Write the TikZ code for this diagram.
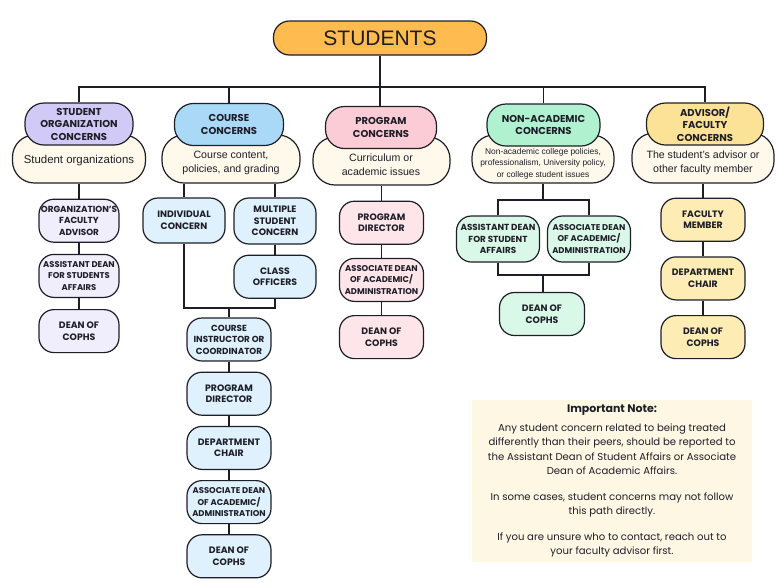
\documentclass[tikz,border=0pt]{standalone}
\usepackage{fontspec}
\setmainfont{Liberation Sans}
\newfontfamily\popfont{Poppins}
\usepackage{tikz}
\usetikzlibrary{positioning,backgrounds}
\definecolor{inki}{RGB}{30,30,40}
\definecolor{orangei}{RGB}{253,187,80}
\definecolor{purplei}{RGB}{210,202,246}
\definecolor{purpleii}{RGB}{240,237,253}
\definecolor{bluei}{RGB}{170,216,247}
\definecolor{blueii}{RGB}{222,241,252}
\definecolor{pinki}{RGB}{251,204,214}
\definecolor{pinkii}{RGB}{253,229,234}
\definecolor{greeni}{RGB}{176,242,208}
\definecolor{greenii}{RGB}{217,248,231}
\definecolor{yellowi}{RGB}{252,226,150}
\definecolor{yellowii}{RGB}{253,236,180}
\definecolor{creami}{RGB}{255,249,236}
\definecolor{notei}{RGB}{254,247,228}
\tikzset{
      mytop/.style={
        draw=inki,
        fill=orangei,
        line width=1.2pt,
        rounded corners=16pt,
        text=inki,
        font=\fontsize{21}{21}\selectfont,
        minimum width=213pt,
        minimum height=34pt
      },
      myhead/.style 2 args={
        draw=inki,
        fill=#1,
        line width=1.2pt,
        rounded corners=19pt,
        align=center,
        text=inki,
        font=\popfont\bfseries\fontsize{10}{12.5}\selectfont,
        minimum width=#2,
        minimum height=42pt,
        inner sep=1pt
      },
      mydesc/.style 2 args={
        draw=inki,
        fill=creami,
        line width=1.2pt,
        rounded corners=22pt,
        minimum width=#1,
        minimum height=#2
      },
      mydesctext/.style={
        align=center,
        text=inki,
        font=\fontsize{10.6}{14}\selectfont,
        inner sep=0pt
      },
      mystep/.style 2 args={
        draw=inki,
        fill=#1,
        line width=1.2pt,
        rounded corners=15pt,
        align=center,
        text=inki,
        font=\popfont\bfseries\fontsize{9.3}{11.5}\selectfont,
        minimum width=#2,
        minimum height=43pt,
        inner sep=1pt
      },
      mymid/.style={
        font=\popfont\bfseries\fontsize{8.8}{11.5}\selectfont
      },
      mysmall/.style={
        font=\popfont\bfseries\fontsize{8.4}{11.5}\selectfont
      },
      mynote/.style={
        fill=notei,
        align=center,
        text=inki,
        font=\popfont\fontsize{10.1}{14.5}\selectfont,
        minimum width=280pt,
        minimum height=162pt
      },
      myline/.style={
        draw=inki,
        line width=1.6pt
      },
      mybus/.style={
        draw=inki,
        line width=1.1pt
      },
    }
\begin{document}
\begin{tikzpicture}[x=1pt,y=-1pt,node distance=11pt]
\useasboundingbox (0,0) rectangle (780,582);

          \node[mytop]
            (students) at (380,38)
            {STUDENTS};
          \coordinate (bus) at (380,87);

          % student organization concerns
          \begin{scope}[xshift=78pt,node distance=11pt]
          \node[mydesc={133pt}{48pt}]
            (orgdesc) at (1,159)
            {};
          \node[myhead={purplei}{108pt}]
            (orghead) at (1,124)
            {STUDENT\\ORGANIZATION\\CONCERNS};
          \node[mydesctext,font=\fontsize{11.4}{14}\selectfont]
            (orgtext) at (1,161)
            {Student organizations};
          \node[mystep={purpleii}{80pt},mymid,below=15pt of orgdesc]
            (orgadvisor)
            {ORGANIZATION’S\\FACULTY\\ADVISOR};
          \node[mystep={purpleii}{80pt},mysmall,below=of orgadvisor]
            (orgassistant)
            {ASSISTANT DEAN\\FOR STUDENTS\\AFFAIRS};
          \node[mystep={purpleii}{80pt},below=of orgassistant]
            (orgdean)
            {DEAN OF\\COPHS};
          \end{scope}

          % course concerns
          \begin{scope}[xshift=229pt,node distance=10pt]
          \node[mydesc={138pt}{48pt}]
            (coursedesc) at (2,159)
            {};
          \node[myhead={bluei}{109pt}]
            (coursehead) at (0,124.5)
            {COURSE\\CONCERNS};
          \node[mydesctext]
            (coursetext) at (2,163)
            {Course content,\\policies, and grading};
          \node[mystep={blueii}{82pt},minimum height=45pt]
            (individual) at (-45,220.5)
            {INDIVIDUAL\\CONCERN};
          \node[mystep={blueii}{82pt},minimum height=46pt]
            (multiple) at (46,221)
            {MULTIPLE\\STUDENT\\CONCERN};
          \node[mystep={blueii}{82pt},below=of multiple]
            (classofficers)
            {CLASS\\OFFICERS};
          \coordinate (coursejoin) at (0,308);
          \node[mystep={blueii}{84pt},mymid]
            (instructor) at (0,339.5)
            {COURSE\\INSTRUCTOR OR\\COORDINATOR};
          \node[mystep={blueii}{84pt},below=of instructor]
            (courseprogram)
            {PROGRAM\\DIRECTOR};
          \node[mystep={blueii}{84pt},below=of courseprogram]
            (coursechair)
            {DEPARTMENT\\CHAIR};
          \node[mystep={blueii}{84pt},mysmall,below=of coursechair]
            (courseassociate)
            {ASSOCIATE DEAN\\OF ACADEMIC/\\ADMINISTRATION};
          \node[mystep={blueii}{84pt},below=of courseassociate]
            (coursedean)
            {DEAN OF\\COPHS};
          \end{scope}

          % program concerns
          \begin{scope}[xshift=381pt,node distance=13pt]
          \node[mydesc={137pt}{48pt}]
            (progdesc) at (0.5,161)
            {};
          \node[myhead={pinki}{111pt}]
            (proghead) at (0,127.5)
            {PROGRAM\\CONCERNS};
          \node[mydesctext]
            (progtext) at (0,165)
            {Curriculum or\\academic issues};
          \node[mystep={pinkii}{84pt},below=15pt of progdesc]
            (progdirector)
            {PROGRAM\\DIRECTOR};
          \node[mystep={pinkii}{84pt},mysmall,below=of progdirector]
            (progassociate)
            {ASSOCIATE DEAN\\OF ACADEMIC/\\ADMINISTRATION};
          \node[mystep={pinkii}{84pt},below=of progassociate]
            (progdean)
            {DEAN OF\\COPHS};
          \end{scope}

          % non-academic concerns
          \begin{scope}[xshift=543pt]
          \node[mydesc={142pt}{48pt}]
            (nonacaddesc) at (0,159)
            {};
          \node[myhead={greeni}{113pt}]
            (nonacadhead) at (0.5,125)
            {NON-ACADEMIC\\CONCERNS};
          \node[mydesctext,font=\fontsize{8.4}{11.6}\selectfont]
            (nonacadtext) at (0,163.5)
            {Non-academic college policies,\\professionalism, University policy,\\or college student issues};
          \coordinate (nonacadsplit) at (0,200);
          \node[mystep={greenii}{83pt},mymid,minimum height=46pt]
            (nonacadassistant) at (-45,239)
            {ASSISTANT DEAN\\FOR STUDENT\\AFFAIRS};
          \node[mystep={greenii}{83pt},mysmall,minimum height=46pt]
            (nonacadassociate) at (46,239)
            {ASSOCIATE DEAN\\OF ACADEMIC/\\ADMINISTRATION};
          \coordinate (nonacadjoin) at (0,275);
          \node[mystep={greenii}{85pt}]
            (nonacaddean) at (-1,314)
            {DEAN OF\\COPHS};
          \end{scope}

          % advisor/faculty concerns
          \begin{scope}[xshift=705pt,node distance=14.5pt]
          \node[mydesc={142pt}{50pt}]
            (advdesc) at (-2,158)
            {};
          \node[myhead={yellowi}{117pt}]
            (advhead) at (0,124)
            {ADVISOR/\\FACULTY\\CONCERNS};
          \node[mydesctext]
            (advtext) at (-2,162.5)
            {The student's advisor or\\other faculty member};
          \node[mystep={yellowii}{84pt},below=14pt of advdesc]
            (advmember)
            {FACULTY\\MEMBER};
          \node[mystep={yellowii}{84pt},below=of advmember]
            (advchair)
            {DEPARTMENT\\CHAIR};
          \node[mystep={yellowii}{84pt},below=of advchair]
            (advdean)
            {DEAN OF\\COPHS};
          \end{scope}

          \node[mynote]
            (note) at (612,481)
            {{\bfseries\fontsize{11}{12}\selectfont Important Note:}\\[4pt]
             Any student concern related to being treated\\
             differently than their peers, should be reported to\\
             the Assistant Dean of Student Affairs or Associate\\
             Dean of Academic Affairs.\\[11pt]
             In some cases, student concerns may not follow\\
             this path directly.\\[11pt]
             If you are unsure who to contact, reach out to\\
             your faculty advisor first.};

          \draw [mybus] (orghead.north) |- (bus) -| (advhead.north);
          \draw [mybus] (coursehead.north) -- (coursehead.north |- bus);
          \draw [mybus] (nonacadhead.north) -- (nonacadhead.north |- bus);
          \draw [myline] (students) -- (students.south |- proghead.north);

          \draw [myline] (orgdesc) -- (orgadvisor);
          \draw [myline] (orgadvisor) -- (orgassistant) (orgassistant) -- (orgdean);

          \draw [myline] (individual.north |- coursedesc.south) -- (individual);
          \draw [myline] (multiple.north |- coursedesc.south) -- (multiple);
          \draw [myline] (multiple) -- (classofficers);
          \draw [myline] (individual) |- (coursejoin) -| (classofficers);
          \draw [myline] (coursejoin) -- (instructor);
          \draw [myline] (instructor) -- (courseprogram) (courseprogram) -- (coursechair);
          \draw [myline] (coursechair) -- (courseassociate) (courseassociate) -- (coursedean);

          \draw [myline] (progdesc) -- (progdirector);
          \draw [myline] (progdirector) -- (progassociate) (progassociate) -- (progdean);

          \draw [myline] (nonacaddesc) -- (nonacadsplit);
          \draw [myline] (nonacadassistant) |- (nonacadsplit) -| (nonacadassociate);
          \draw [myline] (nonacadassistant) |- (nonacadjoin) -| (nonacadassociate);
          \draw [myline] (nonacadjoin) -- (nonacaddean.north -| nonacadjoin);

          \draw [myline] (advdesc) -- (advmember);
          \draw [myline] (advmember) -- (advchair) (advchair) -- (advdean);
\end{tikzpicture}
\end{document}
